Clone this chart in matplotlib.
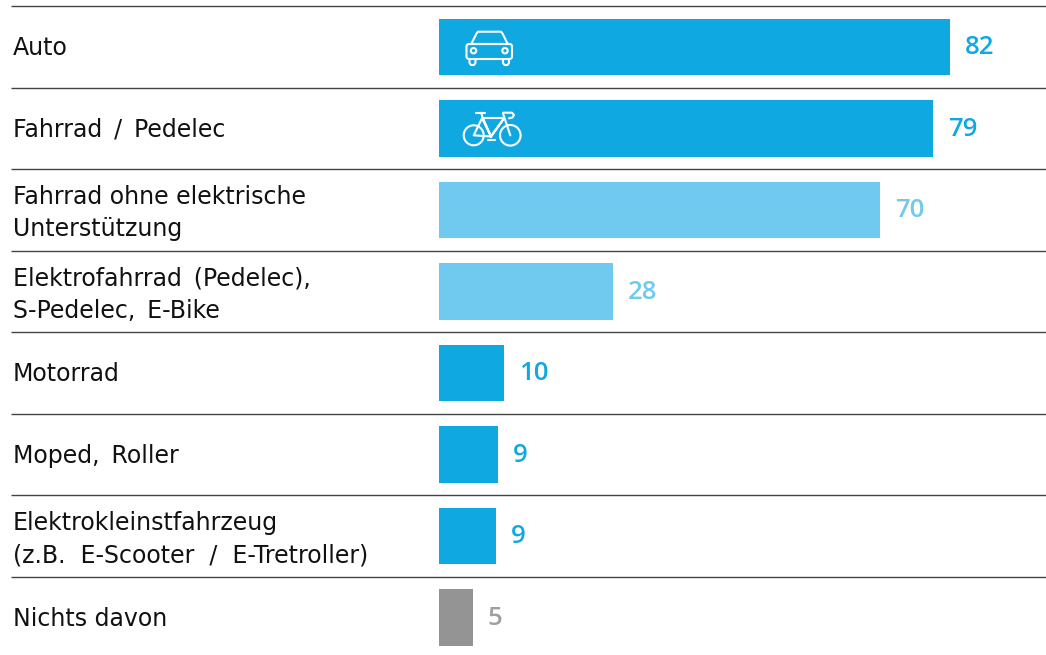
import matplotlib
matplotlib.use("Agg")
import matplotlib.pyplot as plt
from matplotlib.patches import Circle, FancyBboxPatch

# Datos del grafico (algunos espacios son mas anchos, como en el original)
categorias = [
    "Auto",
    "Fahrrad\u2002/\u2002Pedelec",
    "Fahrrad ohne elektrische\nUnterstützung",
    "Elektrofahrrad\u2002(Pedelec),\nS-Pedelec,\u2002E-Bike",
    "Motorrad",
    "Moped,\u2002Roller",
    "Elektrokleinstfahrzeug\n(z.B.\u2007E-Scooter\u2007/\u2007E-Tretroller)",
    "Nichts davon",
]
valores = [82.0, 79.3, 70.8, 27.9, 10.4, 9.4, 9.1, 5.4]
etiquetas = ["82", "79", "70", "28", "10", "9", "9", "5"]
colores = ["#0FA8E0", "#0FA8E0", "#70C9EE", "#70C9EE", "#0FA8E0", "#0FA8E0", "#0FA8E0", "#949494"]
colores_texto = ["#0FA8E0", "#0FA8E0", "#70C9EE", "#70C9EE", "#0FA8E0", "#0FA8E0", "#0FA8E0", "#A0A0A0"]

ANCHO, ALTO = 1046, 655
PX_X = 6.23    # pixeles por unidad
PX_Y = 81.5    # pixeles por fila

fig = plt.figure(figsize=(ANCHO / 100, ALTO / 100), dpi=100)
ax = fig.add_axes([0, 0, 1, 1])
ax.set_xlim(-439 / PX_X, (ANCHO - 439) / PX_X)
ax.set_ylim((ALTO - 47) / PX_Y, -47 / PX_Y)
ax.axis("off")

filas = list(range(len(categorias)))
ax.barh(filas, valores, height=0.69, color=colores, linewidth=0)

x_texto = -426 / PX_X
for i in filas:
    # las etiquetas de dos lineas van un poco mas abajo
    dy = 0.04 if "\n" in categorias[i] else 0.015
    ax.text(x_texto, i + dy, categorias[i], ha="left", va="center", fontsize=17,
            color="#111111", linespacing=1.43, family="DejaVu Sans")
    ax.text(valores[i] + 15 / PX_X, i + 0.012, etiquetas[i], ha="left", va="center",
            fontsize=18.5, color=colores_texto[i], family="Open Sans", fontweight="semibold")
    # lineas separadoras
    ax.plot([-428 / PX_X, (ANCHO - 439) / PX_X], [i - 0.5, i - 0.5],
            color="#444444", lw=1.0, solid_capstyle="butt")

# iconos en coordenadas de pixel
ic = fig.add_axes([0, 0, 1, 1])
ic.set_xlim(0, ANCHO)
ic.set_ylim(ALTO, 0)
ic.axis("off")
ic.patch.set_alpha(0)
LW = 1.5


def linea(xs, ys):
    ic.plot(xs, ys, color="white", lw=LW, solid_capstyle="round", solid_joinstyle="round")


def circulo(x, y, r):
    ic.add_patch(Circle((x, y), r, fill=False, edgecolor="white", lw=LW))


# auto
ic.add_patch(FancyBboxPatch((466.5, 44), 45.5, 15, boxstyle="round,pad=0,rounding_size=2.5",
                            fill=False, edgecolor="white", lw=LW))
linea([471.5, 476.5, 478, 501, 502.5, 507.5], [43.5, 33.5, 31.7, 31.7, 33.5, 43.5])
linea([468, 510], [43.5, 43.5])
circulo(473.5, 50.7, 2.7)
circulo(505, 50.7, 2.7)
linea([469.5, 469.5, 471, 474, 475.5, 475.5], [59, 63, 65, 65, 63, 59])
linea([503, 503, 504.5, 507.5, 509, 509], [59, 63, 65, 65, 63, 59])

# bici
circulo(473.7, 135.3, 10)
circulo(510.3, 135.3, 10.3)
linea([482, 491, 504, 491, 482, 473.7, 491], [116, 136.5, 118.3, 136.5, 118.3, 135.3, 136.5])
linea([482, 504], [118.3, 118.3])
linea([503, 510.3], [113.5, 135.3])
linea([476, 485], [112.7, 112.7])
linea([481.5, 482], [112.7, 116])
linea([503, 512, 514, 512.5, 509], [112.7, 112.7, 115, 117.5, 118.3])
linea([487.5, 495], [139.7, 139.7])

fig.savefig("out.png", dpi=100)
